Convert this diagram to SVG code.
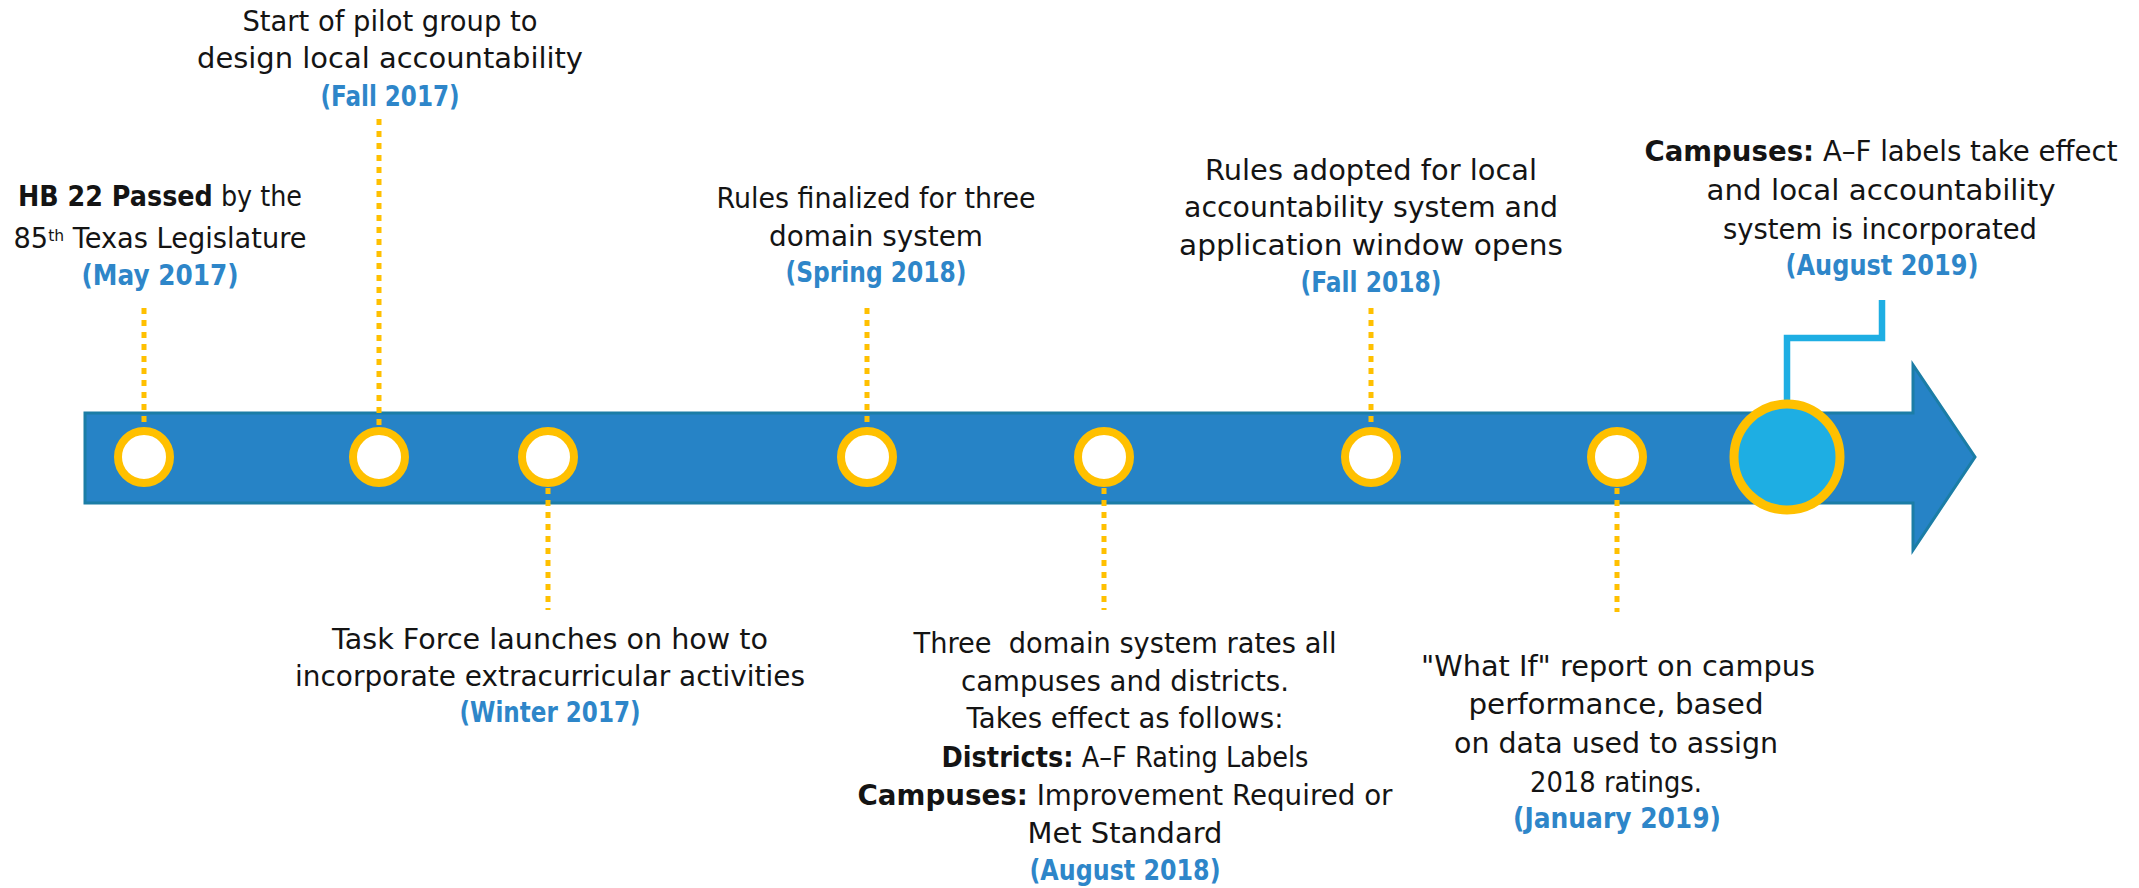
<svg xmlns="http://www.w3.org/2000/svg" width="2139" height="888" viewBox="0 0 2139 888">
<style>
.t{font-family:"DejaVu Sans","Liberation Sans",sans-serif;font-size:28px;fill:#141414;text-anchor:middle}
.d{font-weight:bold;fill:#2E86C9}
.b{font-weight:bold}
.dot{stroke:#FFC000;stroke-width:5;stroke-dasharray:6 6;fill:none}
.ring{fill:#FFFFFF;stroke:#FFC000;stroke-width:8}
.big{fill:#1EAEE3;stroke:#FFC000;stroke-width:9}
.link{stroke:#1EAEE3;stroke-width:6.5;fill:none}
</style>
<rect width="2139" height="888" fill="#FFFFFF"/>
<g id="timeline-arrow">
<polygon points="85,413 1913,413 1913,365 1975,457 1913,550 1913,503 85,503" fill="#2683C6" stroke="#1B7DA6" stroke-width="3"/>
</g>
<g id="connectors">
<line class="dot" x1="144" y1="308" x2="144" y2="426"/>
<line class="dot" x1="379" y1="119" x2="379" y2="426"/>
<line class="dot" x1="548" y1="488" x2="548" y2="610"/>
<line class="dot" x1="867" y1="308" x2="867" y2="426"/>
<line class="dot" x1="1104" y1="488" x2="1104" y2="610"/>
<line class="dot" x1="1371" y1="308" x2="1371" y2="426"/>
<line class="dot" x1="1617" y1="488" x2="1617" y2="612"/>
<path class="link" d="M1787,402 V338 H1882 V300"/>
</g>
<g id="node-may-2017">
<circle class="ring" cx="144" cy="457" r="26"/>
<text class="t" x="160" y="206" textLength="284" lengthAdjust="spacingAndGlyphs"><tspan class="b">HB 22 Passed</tspan> by the</text>
<text class="t" x="160" y="248" textLength="293" lengthAdjust="spacingAndGlyphs">85<tspan font-size="16" dy="-7">th</tspan><tspan dy="7"> Texas Legislature</tspan></text>
<text class="t d" x="160" y="285" textLength="157" lengthAdjust="spacingAndGlyphs">(May 2017)</text>
</g>
<g id="node-fall-2017">
<circle class="ring" cx="379" cy="457" r="26"/>
<text class="t" x="390" y="31" textLength="295" lengthAdjust="spacingAndGlyphs">Start of pilot group to</text>
<text class="t" x="390" y="68" textLength="386" lengthAdjust="spacingAndGlyphs">design local accountability</text>
<text class="t d" x="390" y="106" textLength="139" lengthAdjust="spacingAndGlyphs">(Fall 2017)</text>
</g>
<g id="node-winter-2017">
<circle class="ring" cx="548" cy="457" r="26"/>
<text class="t" x="550" y="649" textLength="436" lengthAdjust="spacingAndGlyphs">Task Force launches on how to</text>
<text class="t" x="550" y="686" textLength="510" lengthAdjust="spacingAndGlyphs">incorporate extracurricular activities</text>
<text class="t d" x="550" y="722" textLength="181" lengthAdjust="spacingAndGlyphs">(Winter 2017)</text>
</g>
<g id="node-spring-2018">
<circle class="ring" cx="867" cy="457" r="26"/>
<text class="t" x="876" y="208" textLength="319" lengthAdjust="spacingAndGlyphs">Rules finalized for three</text>
<text class="t" x="876" y="246" textLength="214" lengthAdjust="spacingAndGlyphs">domain system</text>
<text class="t d" x="876" y="282" textLength="181" lengthAdjust="spacingAndGlyphs">(Spring 2018)</text>
</g>
<g id="node-august-2018">
<circle class="ring" cx="1104" cy="457" r="26"/>
<text class="t" x="1125" y="653" textLength="423" lengthAdjust="spacingAndGlyphs" xml:space="preserve">Three  domain system rates all</text>
<text class="t" x="1125" y="691" textLength="328" lengthAdjust="spacingAndGlyphs">campuses and districts.</text>
<text class="t" x="1125" y="728" textLength="317" lengthAdjust="spacingAndGlyphs">Takes effect as follows:</text>
<text class="t" x="1125" y="767" textLength="367" lengthAdjust="spacingAndGlyphs"><tspan class="b">Districts:</tspan> A–F Rating Labels</text>
<text class="t" x="1125" y="805" textLength="535" lengthAdjust="spacingAndGlyphs"><tspan class="b">Campuses:</tspan> Improvement Required or</text>
<text class="t" x="1125" y="843" textLength="195" lengthAdjust="spacingAndGlyphs">Met Standard</text>
<text class="t d" x="1125" y="880" textLength="191" lengthAdjust="spacingAndGlyphs">(August 2018)</text>
</g>
<g id="node-fall-2018">
<circle class="ring" cx="1371" cy="457" r="26"/>
<text class="t" x="1371" y="180" textLength="332" lengthAdjust="spacingAndGlyphs">Rules adopted for local</text>
<text class="t" x="1371" y="217" textLength="374" lengthAdjust="spacingAndGlyphs">accountability system and</text>
<text class="t" x="1371" y="255" textLength="384" lengthAdjust="spacingAndGlyphs">application window opens</text>
<text class="t d" x="1371" y="292" textLength="141" lengthAdjust="spacingAndGlyphs">(Fall 2018)</text>
</g>
<g id="node-january-2019">
<circle class="ring" cx="1617" cy="457" r="26"/>
<text class="t" x="1618" y="676" textLength="394" lengthAdjust="spacingAndGlyphs">"What If" report on campus</text>
<text class="t" x="1616" y="714" textLength="295" lengthAdjust="spacingAndGlyphs">performance, based</text>
<text class="t" x="1616" y="753" textLength="324" lengthAdjust="spacingAndGlyphs">on data used to assign</text>
<text class="t" x="1616" y="792" textLength="172" lengthAdjust="spacingAndGlyphs">2018 ratings.</text>
<text class="t d" x="1617" y="828" textLength="208" lengthAdjust="spacingAndGlyphs">(January 2019)</text>
</g>
<g id="node-august-2019">
<circle class="big" cx="1787" cy="457" r="53"/>
<text class="t" x="1881" y="161" textLength="473" lengthAdjust="spacingAndGlyphs"><tspan class="b">Campuses:</tspan> A–F labels take effect</text>
<text class="t" x="1881" y="200" textLength="349" lengthAdjust="spacingAndGlyphs">and local accountability</text>
<text class="t" x="1880" y="239" textLength="314" lengthAdjust="spacingAndGlyphs">system is incorporated</text>
<text class="t d" x="1882" y="275" textLength="193" lengthAdjust="spacingAndGlyphs">(August 2019)</text>
</g>
</svg>
